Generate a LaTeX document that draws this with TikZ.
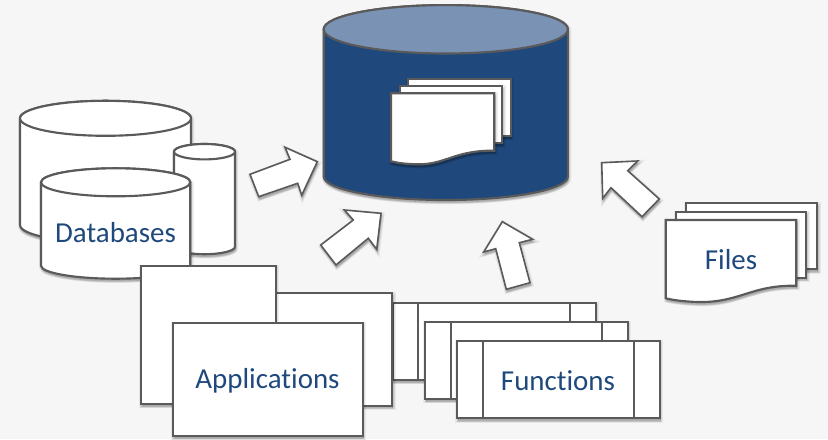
\documentclass[tikz,border=0pt]{standalone}
\usepackage{fontspec}
\setmainfont[Ligatures=CommonOff]{Carlito}
\usetikzlibrary{shadows}
\definecolor{bgc}{HTML}{F6F6F6}
\definecolor{edgec}{HTML}{5A5A5A}
\definecolor{navy}{HTML}{1F497D}
\definecolor{lidc}{HTML}{7A93B5}
\tikzset{
  x=0.75pt,y=-0.75pt,
  softshadow/.style={
    general shadow={shadow xshift=0.6pt,shadow yshift=-1.2pt,fill=black,opacity=.06,scale=1.0,draw=black,line width=4pt},
    general shadow={shadow xshift=0.6pt,shadow yshift=-1.6pt,fill=black,opacity=.07,draw=black,line width=2.4pt},
    general shadow={shadow xshift=0.6pt,shadow yshift=-2pt,fill=black,opacity=.09,draw=black,line width=1pt}},
  shape line/.style={draw=edgec,line width=1.6pt,line join=miter,fill=white},
  whitebox/.style={shape line,softshadow},
  thinline/.style={draw=edgec,line width=1.6pt},
  label text/.style={text=navy,font=\fontsize{21.7}{26}\selectfont,inner sep=0pt,anchor=center}
}
\begin{document}
\begin{tikzpicture}
\useasboundingbox (0,0) rectangle (828,439);
\fill[bgc] (0,0) rectangle (828,439);
% main cylinder
\path[shape line,fill=navy,softshadow] (323.7,29.3) arc[start angle=180,end angle=0,x radius=122.1,y radius=-24.2] -- (567.9,176.5) arc[start angle=0,end angle=-180,x radius=122.1,y radius=-23.5] -- cycle;
\path[shape line,fill=lidc] (445.8,29.3) ellipse[x radius=122.1,y radius=24.2];
% documents in main cylinder
\path[whitebox] (407.7,78.7) rectangle (511,136);
\path[whitebox] (400,86) rectangle (502.3,143.3);
\path[whitebox] (391,93.3) -- (494.3,93.3) -- (494.3,150.7) .. controls (455,150) and (445,165) .. (417,164.3) .. controls (405,164) and (398,163) .. (391,161.3) -- cycle;
% databases
\path[whitebox] (20,118.3) arc[start angle=180,end angle=0,x radius=85.5,y radius=-17.5] -- (191,225) arc[start angle=0,end angle=-180,x radius=85.5,y radius=-17.5] -- cycle;
\path[shape line] (105.5,118.3) ellipse[x radius=85.5,y radius=17.5];
\path[whitebox] (174,151.7) arc[start angle=180,end angle=0,x radius=30.5,y radius=-7.7] -- (235,246.7) arc[start angle=0,end angle=-180,x radius=30.5,y radius=-7.5] -- cycle;
\path[shape line] (204.5,151.7) ellipse[x radius=30.5,y radius=7.7];
\path[whitebox] (41,182.3) arc[start angle=180,end angle=0,x radius=74.65,y radius=-14] -- (190.3,265.7) arc[start angle=0,end angle=-180,x radius=74.65,y radius=-13] -- cycle;
\path[shape line] (115.65,182.3) ellipse[x radius=74.65,y radius=14];
\node[label text] (databases) at (115.5,232.3) {Databases};
% arrows
\path[whitebox,line width=1.2pt] (250,174.3) -- (290,159.3) -- (285,147.3) -- (317.3,161.7) -- (301.7,195.3) -- (297.7,183.3) -- (258.7,196.7) -- cycle;
\path[whitebox,line width=1.2pt] (381,213.3) -- (344.3,210) -- (353.3,220) -- (320.7,245) -- (336,265) -- (368.3,238.3) -- (376.7,249.3) -- cycle;
\path[whitebox,line width=1.2pt] (502.3,221.7) -- (532.7,239.3) -- (519.3,242.7) -- (530,282.7) -- (506.3,289.3) -- (495.7,248.7) -- (483.7,252) -- cycle;
\path[whitebox,line width=1.2pt] (601.7,162.7) -- (637.7,161) -- (627.7,170.7) -- (659.3,199) -- (642,216.7) -- (611,187.7) -- (602.7,198.3) -- cycle;
% functions
\path[whitebox] (393,303.3) rectangle (595.7,380);
\draw[thinline] (418.3,303.3) -- (418.3,380) (570,303.3) -- (570,380);
\path[whitebox] (425.3,322.3) rectangle (627.7,399);
\draw[thinline] (450.7,322.3) -- (450.7,399) (602.3,322.3) -- (602.3,399);
\path[whitebox] (457.3,341.3) rectangle (660,418.3);
\draw[thinline] (482.7,341.3) -- (482.7,418.3) (634.3,341.3) -- (634.3,418.3);
\node[label text] (functions) at (558,381) {Functions};
% applications
\path[whitebox] (257,292.7) rectangle (392.3,405.7);
\path[whitebox] (140.7,265.7) rectangle (276,404);
\path[whitebox] (172.7,322.7) rectangle (362.7,436);
\node[label text] (applications) at (267.5,381) {Applications};
% files
\path[whitebox] (686.3,203.3) rectangle (817.3,269.3);
\path[whitebox] (676,211.7) rectangle (806.3,277.7);
\path[whitebox] (665.7,220) -- (796.3,220) -- (796.3,285.7) .. controls (750,285) and (740,303) .. (697,302) .. controls (685,301.5) and (675,300.5) .. (665.7,298.3) -- cycle;
\node[label text] (files) at (731,260) {Files};
\end{tikzpicture}
\end{document}
